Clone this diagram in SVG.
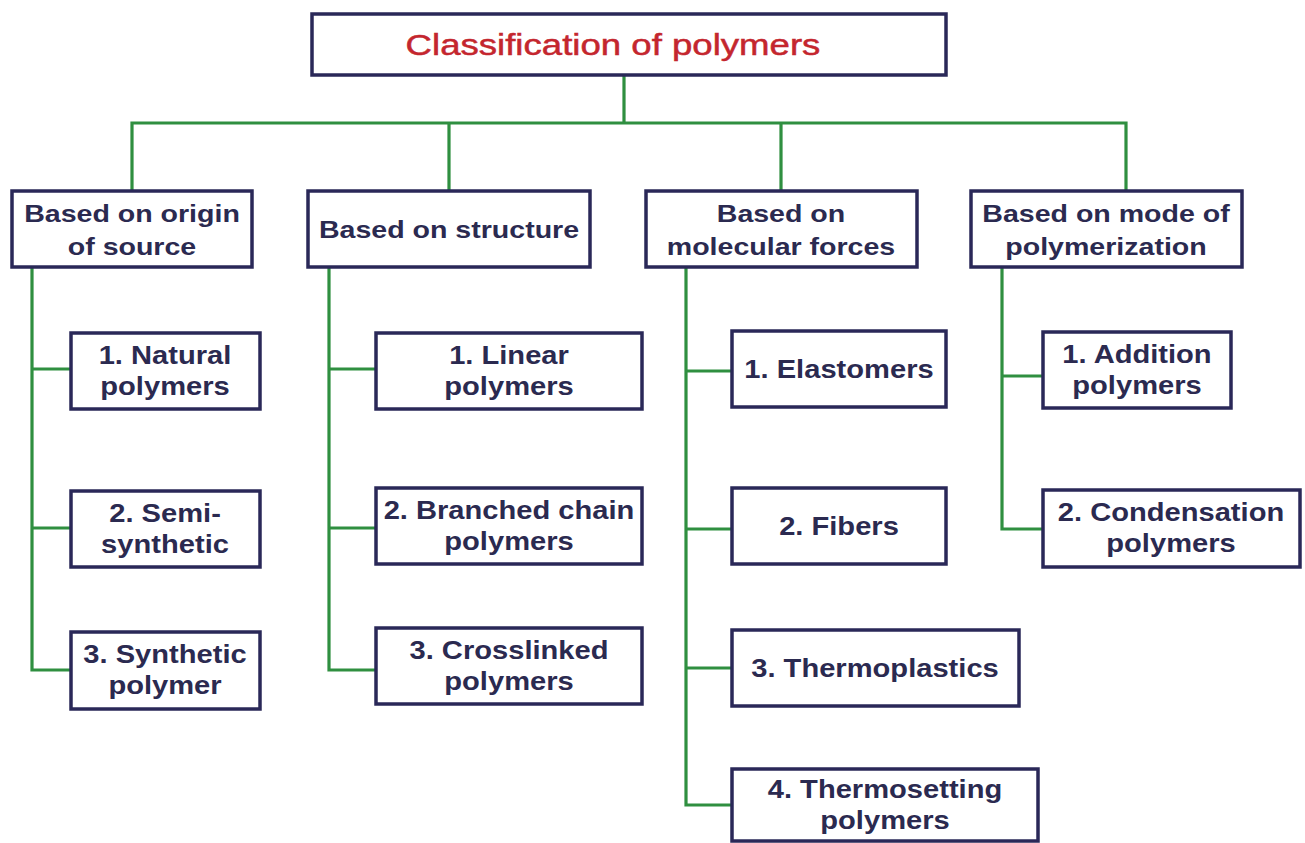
<svg xmlns="http://www.w3.org/2000/svg" width="1305" height="843" viewBox="0 0 1305 843">
<style>
.box{fill:#ffffff;stroke:#2a2858;stroke-width:3.5}
.ln{fill:none;stroke:#2f8f40;stroke-width:3.2;stroke-linecap:square;stroke-linejoin:miter}
.title{font-family:"Liberation Sans",Arial,sans-serif;font-size:30px;fill:#c4262e;stroke:#c4262e;stroke-width:0.5;text-anchor:middle}
.cat{font-family:"Liberation Sans",Arial,sans-serif;font-size:24px;font-weight:bold;fill:#2b2a50;text-anchor:middle}
.item{font-family:"Liberation Sans",Arial,sans-serif;font-size:26px;font-weight:bold;fill:#2b2a50;text-anchor:middle}
</style>
<rect width="1305" height="843" fill="#ffffff"/>
<g id="connectors">
<path class="ln" d="M624 76V123M132 191V123H1126V191M449 123V191M781 123V191"/>
<path class="ln" d="M32 267V670H71M32 369H71M32 528H71"/>
<path class="ln" d="M329 267V670H376M329 369H376M329 528H376"/>
<path class="ln" d="M686 267V805H732M686 371H732M686 529H732M686 668H732"/>
<path class="ln" d="M1002 267V529H1043M1002 376H1043"/>
</g>
<g id="title">
<rect class="box" x="312" y="14" width="634" height="61"/>
<text class="title" transform="translate(613 0) scale(1.22 1)" x="0" y="55">Classification of polymers</text>
</g>
<g id="cat-origin">
<rect class="box" x="12" y="191" width="240" height="76"/>
<text class="cat" transform="translate(132 0) scale(1.19 1)"><tspan x="0" y="222">Based on origin</tspan><tspan x="0" y="255">of source</tspan></text>
</g>
<g id="cat-structure">
<rect class="box" x="308" y="191" width="282" height="76"/>
<text class="cat" transform="translate(449 0) scale(1.19 1)" x="0" y="238">Based on structure</text>
</g>
<g id="cat-forces">
<rect class="box" x="646" y="191" width="271" height="76"/>
<text class="cat" transform="translate(781 0) scale(1.19 1)"><tspan x="0" y="222">Based on</tspan><tspan x="0" y="255">molecular forces</tspan></text>
</g>
<g id="cat-mode">
<rect class="box" x="971" y="191" width="271" height="76"/>
<text class="cat" transform="translate(1106 0) scale(1.19 1)"><tspan x="0" y="222">Based on mode of</tspan><tspan x="0" y="255">polymerization</tspan></text>
</g>
<g id="natural">
<rect class="box" x="71" y="333" width="189" height="76"/>
<text class="item" transform="translate(165 0) scale(1.12 1)"><tspan x="0" y="364">1. Natural</tspan><tspan x="0" y="395">polymers</tspan></text>
</g>
<g id="semi-synthetic">
<rect class="box" x="71" y="491" width="189" height="76"/>
<text class="item" transform="translate(165 0) scale(1.12 1)"><tspan x="0" y="522">2. Semi-</tspan><tspan x="0" y="553">synthetic</tspan></text>
</g>
<g id="synthetic">
<rect class="box" x="71" y="632" width="189" height="77"/>
<text class="item" transform="translate(165 0) scale(1.12 1)"><tspan x="0" y="663">3. Synthetic</tspan><tspan x="0" y="694">polymer</tspan></text>
</g>
<g id="linear">
<rect class="box" x="376" y="333" width="266" height="76"/>
<text class="item" transform="translate(509 0) scale(1.12 1)"><tspan x="0" y="364">1. Linear</tspan><tspan x="0" y="395">polymers</tspan></text>
</g>
<g id="branched">
<rect class="box" x="376" y="488" width="266" height="76"/>
<text class="item" transform="translate(509 0) scale(1.12 1)"><tspan x="0" y="519">2. Branched chain</tspan><tspan x="0" y="550">polymers</tspan></text>
</g>
<g id="crosslinked">
<rect class="box" x="376" y="628" width="266" height="76"/>
<text class="item" transform="translate(509 0) scale(1.12 1)"><tspan x="0" y="659">3. Crosslinked</tspan><tspan x="0" y="690">polymers</tspan></text>
</g>
<g id="elastomers">
<rect class="box" x="732" y="331" width="214" height="76"/>
<text class="item" transform="translate(839 0) scale(1.12 1)" x="0" y="378">1. Elastomers</text>
</g>
<g id="fibers">
<rect class="box" x="732" y="488" width="214" height="76"/>
<text class="item" transform="translate(839 0) scale(1.12 1)" x="0" y="535">2. Fibers</text>
</g>
<g id="thermoplastics">
<rect class="box" x="732" y="630" width="287" height="76"/>
<text class="item" transform="translate(875 0) scale(1.12 1)" x="0" y="677">3. Thermoplastics</text>
</g>
<g id="thermosetting">
<rect class="box" x="732" y="769" width="306" height="72"/>
<text class="item" transform="translate(885 0) scale(1.12 1)"><tspan x="0" y="798">4. Thermosetting</tspan><tspan x="0" y="829">polymers</tspan></text>
</g>
<g id="addition">
<rect class="box" x="1043" y="332" width="188" height="76"/>
<text class="item" transform="translate(1137 0) scale(1.12 1)"><tspan x="0" y="363">1. Addition</tspan><tspan x="0" y="394">polymers</tspan></text>
</g>
<g id="condensation">
<rect class="box" x="1043" y="490" width="257" height="77"/>
<text class="item" transform="translate(1171 0) scale(1.12 1)"><tspan x="0" y="521">2. Condensation</tspan><tspan x="0" y="552">polymers</tspan></text>
</g>
</svg>
